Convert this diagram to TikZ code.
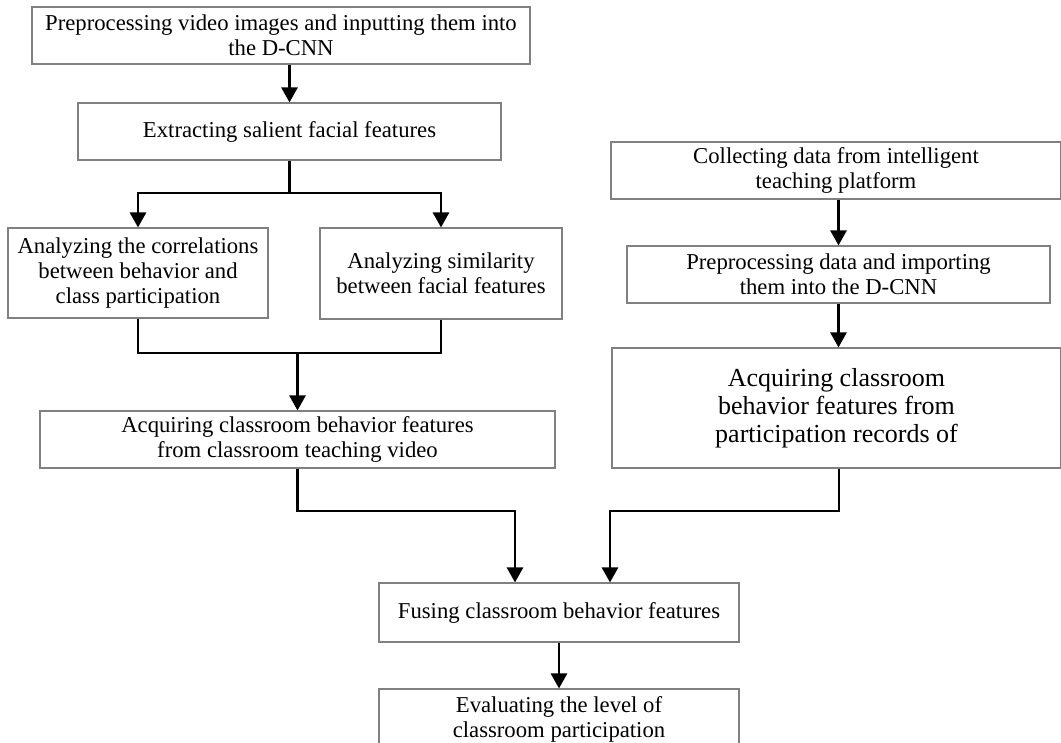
\documentclass[tikz,border=0pt]{standalone}
\usepackage{fontspec}
\setmainfont{Liberation Serif}
\usetikzlibrary{arrows.meta,calc}
\begin{document}
\begin{tikzpicture}[x=1pt,y=-1pt,
  box/.style={draw=black!50, line width=1.1pt, rectangle, inner sep=0pt, align=center,
    font=\fontsize{22.7}{25}\selectfont},
  bigbox/.style={box, font=\fontsize{26}{28}\selectfont},
  conn/.style={line width=2.7pt, black},
  arr/.style={conn, -{Triangle[width=16pt,length=15pt]}}]
\useasboundingbox (0,0) rectangle (1061,743);
\node[box, minimum width=498pt, minimum height=57pt] (n1) at (281,35.5)
  {Preprocessing video images and inputting them into\\the D-CNN};
\node[box, minimum width=423pt, minimum height=57pt] (n2) at (289.5,131.5)
  {Extracting salient facial features};
\node[box, minimum width=260pt, minimum height=90pt] (n3) at (138,273)
  {Analyzing the correlations\\between behavior and\\class participation};
\node[box, minimum width=242pt, minimum height=91pt] (n4) at (441,273.5)
  {Analyzing similarity\\between facial features};
\node[box, minimum width=515pt, minimum height=57pt] (n5) at (297.5,439.5)
  {Acquiring classroom behavior features\\from classroom teaching video};
\node[box, minimum width=450pt, minimum height=57pt] (n6) at (836,170.5)
  {Collecting data from intelligent\\teaching platform};
\node[box, minimum width=423pt, minimum height=57pt] (n7) at (838.5,274.5)
  {Preprocessing data and importing\\them into the D-CNN};
\node[bigbox, minimum width=449pt, minimum height=120pt] (n8) at (836.5,408)
  {Acquiring classroom\\behavior features from\\participation records of};
\node[box, minimum width=360pt, minimum height=59pt] (n9) at (559,612.5)
  {Fusing classroom behavior features};
\node[box, minimum width=360pt, minimum height=60pt] (n10) at (559,719)
  {Evaluating the level of\\classroom participation};
\coordinate (j1) at (289.5,193);
\coordinate (j2) at (297.5,353);
\coordinate (j3) at (297.5,511);
\coordinate (j4) at (839,511);
\coordinate (t1) at ($(n9.north)+(-44,0)$);
\coordinate (t2) at ($(n9.north)+(51,0)$);
\draw[arr] (n1.south -| n2.north) -- (n2.north);
\draw[conn] (n2.south) -- (j1);
\draw[arr] (j1) -| (n3.north);
\draw[arr] (j1) -| (n4.north);
\draw[conn] (n3.south) |- (j2);
\draw[conn] (n4.south) |- (j2);
\draw[arr] (j2) -- (n5.north);
\draw[arr] (n6.south -| n7.north) -- (n7.north);
\draw[arr] (n7.south) -- (n7.south |- n8.north);
\draw[arr] (n5.south) -- (j3) -| (t1);
\draw[arr] (n8.south -| j4) -- (j4) -| (t2);
\draw[arr] (n9.south) -- (n10.north);
\end{tikzpicture}
\end{document}
